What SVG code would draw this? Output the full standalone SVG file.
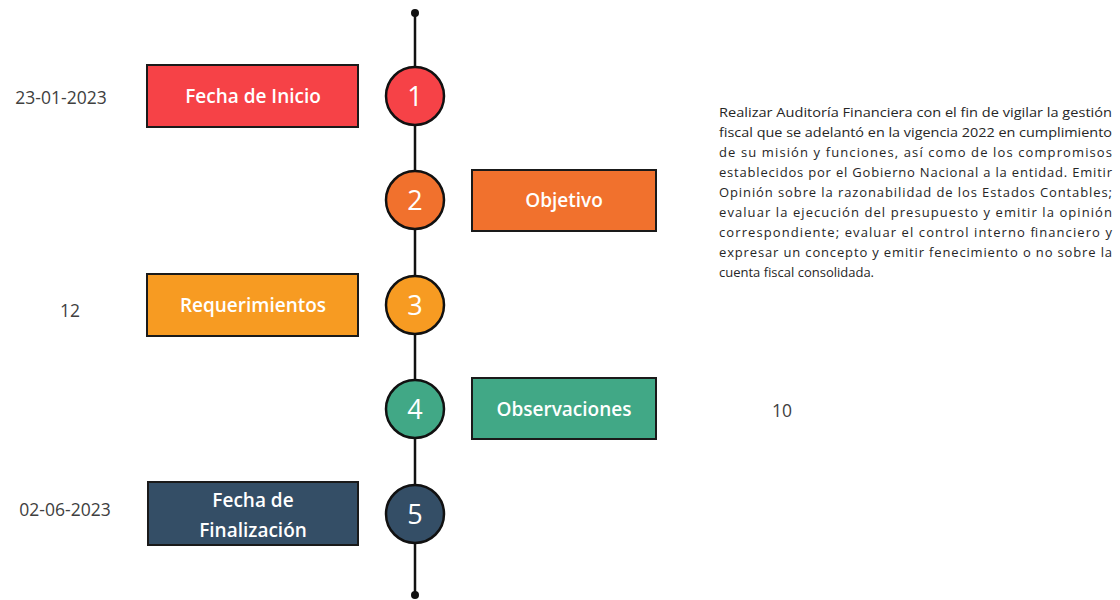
<svg xmlns="http://www.w3.org/2000/svg" width="1120" height="600" viewBox="0 0 1120 600">
<style>
.box{stroke:#1a1a1a;stroke-width:2}
.circ{stroke:#111;stroke-width:2.5}
.bt{font-family:"Open Sans","Liberation Sans",sans-serif;font-weight:600;font-size:19px;fill:#fff;text-anchor:middle}
.num{font-family:"Open Sans","Liberation Sans",sans-serif;font-size:27px;fill:#fff;text-anchor:middle}
.lab{font-family:"Open Sans","Liberation Sans",sans-serif;font-size:17.5px;fill:#404040;text-anchor:middle}
.para{font-family:"Open Sans","Liberation Sans",sans-serif;font-size:13px;fill:#262626}
</style>
<rect width="1120" height="600" fill="#fff"/>
<g id="connectors">
<line x1="415" y1="13" x2="415" y2="595" stroke="#111" stroke-width="2.5"/>
<circle cx="415" cy="13" r="4" fill="#111"/>
<circle cx="415" cy="595" r="4" fill="#111"/>
</g>
<g id="n1">
<rect class="box" x="147" y="65" width="211" height="62" fill="#F64247"/>
<text class="bt" x="253" y="103">Fecha de Inicio</text>
<circle class="circ" cx="415" cy="96" r="29" fill="#F64247"/>
<text class="num" x="415" y="106">1</text>
<text class="lab" x="61" y="104">23-01-2023</text>
</g>
<g id="n2">
<rect class="box" x="472" y="170" width="184" height="61" fill="#F1712D"/>
<text class="bt" x="564" y="207">Objetivo</text>
<circle class="circ" cx="415" cy="200" r="29" fill="#F1712D"/>
<text class="num" x="415" y="210">2</text>
</g>
<g id="n3">
<rect class="box" x="147" y="274" width="211" height="62" fill="#F79B22"/>
<text class="bt" x="253" y="312">Requerimientos</text>
<circle class="circ" cx="415" cy="305" r="29" fill="#F79B22"/>
<text class="num" x="415" y="315">3</text>
<text class="lab" x="70" y="317">12</text>
</g>
<g id="n4">
<rect class="box" x="472" y="378" width="184" height="61" fill="#41A886"/>
<text class="bt" x="564" y="416">Observaciones</text>
<circle class="circ" cx="415" cy="409" r="29" fill="#41A886"/>
<text class="num" x="415" y="419">4</text>
<text class="lab" x="782" y="417">10</text>
</g>
<g id="n5">
<rect class="box" x="148" y="482" width="210" height="63" fill="#344E66"/>
<text class="bt" x="253" y="507">Fecha de</text>
<text class="bt" x="253" y="537">Finalización</text>
<circle class="circ" cx="415" cy="514" r="29" fill="#344E66"/>
<text class="num" x="415" y="524">5</text>
<text class="lab" x="65" y="516">02-06-2023</text>
</g>
<g id="description" class="para">
<text x="719" y="117" textLength="393" lengthAdjust="spacingAndGlyphs">Realizar Auditoría Financiera con el fin de vigilar la gestión</text>
<text x="719" y="137" textLength="393" lengthAdjust="spacingAndGlyphs">fiscal que se adelantó en la vigencia 2022 en cumplimiento</text>
<text x="719" y="157" textLength="393" lengthAdjust="spacing">de su misión y funciones, así como de los compromisos</text>
<text x="719" y="177" textLength="393" lengthAdjust="spacing">establecidos por el Gobierno Nacional a la entidad. Emitir</text>
<text x="719" y="197" textLength="393" lengthAdjust="spacing">Opinión sobre la razonabilidad de los Estados Contables;</text>
<text x="719" y="217" textLength="393" lengthAdjust="spacing">evaluar la ejecución del presupuesto y emitir la opinión</text>
<text x="719" y="237" textLength="393" lengthAdjust="spacing">correspondiente; evaluar el control interno financiero y</text>
<text x="719" y="257" textLength="393" lengthAdjust="spacing">expresar un concepto y emitir fenecimiento o no sobre la</text>
<text x="719" y="277">cuenta fiscal consolidada.</text>
</g>
</svg>
